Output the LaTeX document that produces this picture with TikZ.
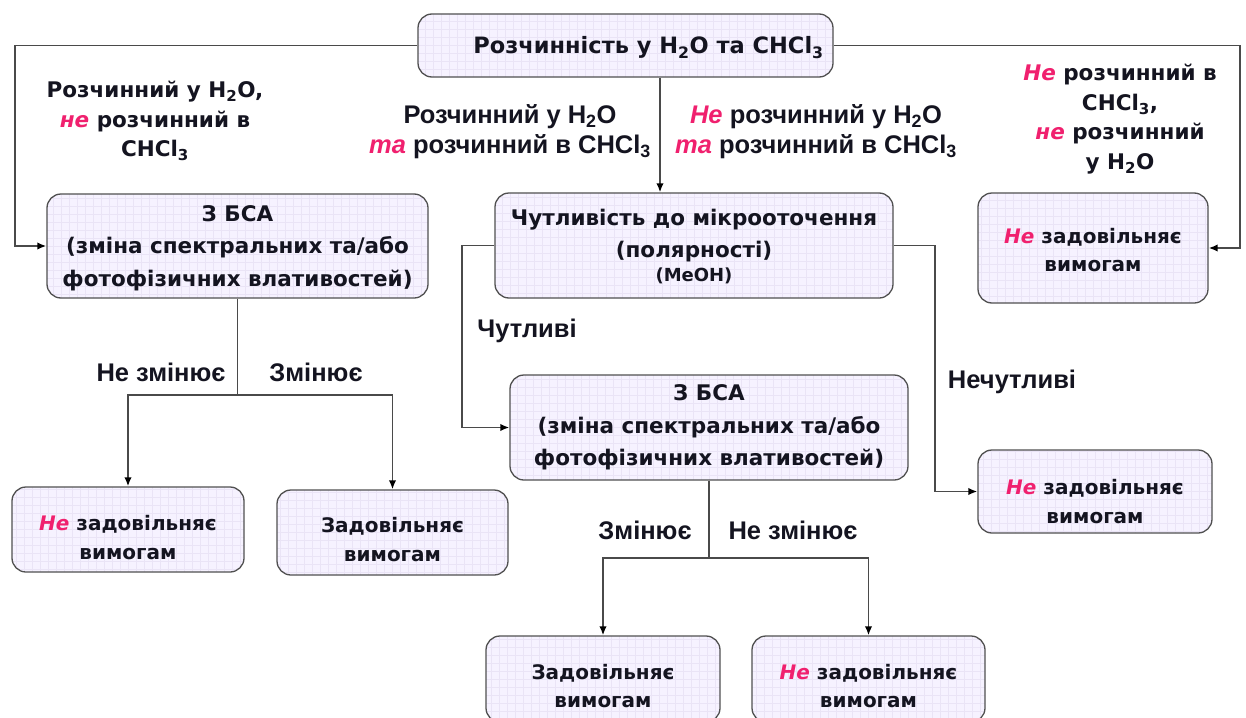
\documentclass[tikz,border=0pt]{standalone}
\usepackage{fontspec}
\setmainfont{DejaVu Sans}
\newfontfamily\arfont{Liberation Sans}
\usetikzlibrary{arrows.meta}
\definecolor{boxfill}{HTML}{F6F2FF}
\definecolor{boxline}{HTML}{505050}
\definecolor{wirec}{HTML}{4A4A4A}
\definecolor{pinkc}{HTML}{F0206E}
\definecolor{txt}{HTML}{141420}
\definecolor{gridc}{HTML}{EAE4F6}
\newcommand\pk[1]{\textcolor{pinkc}{\itshape #1}}
\newcommand\sbs[1]{\textsubscript{#1}}
\tikzset{
  box/.style={draw=boxline, line width=1.3pt, fill=boxfill, rounded corners=14pt, inner sep=0pt,
    path picture={\draw[gridc, line width=0.4pt, step=8pt] (path picture bounding box.south west) grid (path picture bounding box.north east);}},
  boxtext/.style={text=txt, align=center, font=\bfseries\fontsize{21.5}{32.5}\selectfont},
  restext/.style={text=txt, align=center, font=\bfseries\fontsize{20}{28.5}\selectfont},
  lab/.style={text=txt, align=center, font=\bfseries\fontsize{21.5}{29.5}\selectfont},
  alab/.style={text=txt, align=center, font=\arfont\bfseries\fontsize{25.5}{30}\selectfont},
  wire/.style={draw=wirec, line width=1.8pt},
  arr/.style={wire, -{Latex[length=9pt,width=7.5pt,color=black]}}
}
\begin{document}
\begin{tikzpicture}[x=1pt,y=-1pt]
\fill[white] (0,0) rectangle (1246,717);
\useasboundingbox (0,0) rectangle (1246,717);
\clip (0,0) rectangle (1246,717);

% boxes
\node[box, minimum width=415pt, minimum height=63pt,
  label={[boxtext, font=\bfseries\fontsize{22.5}{27}\selectfont, xshift=23pt, yshift=-2pt]center:{Розчинність у H\sbs{2}O та CHCl\sbs{3}}}] (top) at (625.5,45.5) {};
\node[box, minimum width=381pt, minimum height=104pt,
  label={[boxtext, yshift=-2pt]center:{З БСА\\(зміна спектральних та/або\\фотофізичних влативостей)}}] (L1) at (237.5,246) {};
\node[box, minimum width=398pt, minimum height=105pt,
  label={[boxtext, yshift=-1pt]center:{Чутливість до мікрооточення\\(полярності)\\[-9pt]{\fontsize{18}{20}\selectfont (МеОН)}}}] (M1) at (694,245.5) {};
\node[box, minimum width=230pt, minimum height=110pt,
  label={[restext, yshift=-2pt]center:{\pk{Не} задовільняє\\вимогам}}] (R1) at (1093,248) {};
\node[box, minimum width=398pt, minimum height=105pt,
  label={[boxtext, yshift=0pt]center:{З БСА\\(зміна спектральних та/або\\фотофізичних влативостей)}}] (M2) at (709,427.5) {};
\node[box, minimum width=232pt, minimum height=85pt,
  label={[restext, yshift=-8pt]center:{\pk{Не} задовільняє\\вимогам}}] (LB1) at (128,529.5) {};
\node[box, minimum width=231pt, minimum height=85pt,
  label={[restext, yshift=-7pt]center:{Задовільняє\\вимогам}}] (LB2) at (392.5,532.5) {};
\node[box, minimum width=234pt, minimum height=83pt,
  label={[restext, yshift=-10pt]center:{\pk{Не} задовільняє\\вимогам}}] (R2) at (1095,491.5) {};
\node[box, minimum width=234pt, minimum height=86pt,
  label={[restext, yshift=-7pt]center:{Задовільняє\\вимогам}}] (B1) at (603,679) {};
\node[box, minimum width=233pt, minimum height=86pt,
  label={[restext, yshift=-7pt]center:{\pk{Не} задовільняє\\вимогам}}] (B2) at (868.5,679) {};

% free labels
\node[lab] (l1) at (155,121) {Розчинний у H\sbs{2}O,\\\pk{не} розчинний в\\CHCl\sbs{3}};
\node[alab] (l2) at (510,132) {Розчинний у H\sbs{2}O\\\pk{та} розчинний в CHCl\sbs{3}};
\node[alab] (l3) at (816,132) {\pk{Не} розчинний у H\sbs{2}O\\\pk{та} розчинний в CHCl\sbs{3}};
\node[lab] (l4) at (1120,119) {\pk{Не} розчинний в\\CHCl\sbs{3},\\\pk{не} розчинний\\у H\sbs{2}O};
\node[alab] (l5) at (161,372) {Не змінює};
\node[alab] (l6) at (316,372) {Змінює};
\node[alab] (l7) at (527,331) {Чутливі};
\node[alab] (l8) at (1012,382) {Нечутливі};
\node[alab] (l9) at (645,530) {Змінює};
\node[alab] (l10) at (793,530) {Не змінює};

% junctions
\coordinate (jTL) at (15,45.5);
\coordinate (jTR) at (1240,45.5);
\coordinate (jTD) at (660,0);
\coordinate (jL) at (237.5,395);
\coordinate (jML) at (462,245.5);
\coordinate (jMR) at (935,245.5);
\coordinate (jM2) at (709,558);

% connectors
\draw[arr] (top.west) -- (jTL) |- (L1.west);
\draw[arr] (top.east) -- (jTR) |- (R1.east);
\draw[arr] (top.south -| jTD) -- (M1.north -| jTD);
\draw[wire] (L1.south) -- (jL);
\draw[arr] (jL) -| (LB1.north);
\draw[arr] (jL) -| (LB2.north);
\draw[arr] (M1.west) -- (jML) |- (M2.west);
\draw[arr] (M1.east) -- (jMR) |- (R2.west);
\draw[wire] (M2.south) -- (jM2);
\draw[arr] (jM2) -| (B1.north);
\draw[arr] (jM2) -| (B2.north);
\end{tikzpicture}
\end{document}
